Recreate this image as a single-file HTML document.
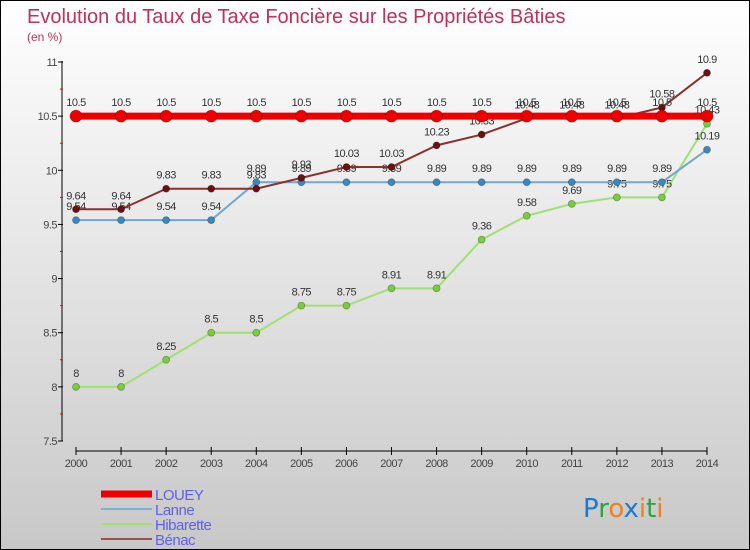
<!DOCTYPE html>
<html><head><meta charset="utf-8"><style>
body{margin:0}
#c{width:750px;height:550px;position:relative;overflow:hidden;box-sizing:border-box;border:1px solid #000;background:linear-gradient(#ffffff,#c8c8c8);font-family:"Liberation Sans","DejaVu Sans",sans-serif}
svg{position:absolute;left:0;top:0}
</style></head><body>
<div id="c">
<svg id="s" width="750" height="550"></svg>
</div>
<script>
const years=[2000,2001,2002,2003,2004,2005,2006,2007,2008,2009,2010,2011,2012,2013,2014];
const louey=[10.5,10.5,10.5,10.5,10.5,10.5,10.5,10.5,10.5,10.5,10.5,10.5,10.5,10.5,10.5];
const lanne=[9.54,9.54,9.54,9.54,9.89,9.89,9.89,9.89,9.89,9.89,9.89,9.89,9.89,9.89,10.19];
const hibarette=[8,8,8.25,8.5,8.5,8.75,8.75,8.91,8.91,9.36,9.58,9.69,9.75,9.75,10.43];
const benac=[9.64,9.64,9.83,9.83,9.83,9.93,10.03,10.03,10.23,10.33,10.48,10.48,10.48,10.58,10.9];
const yTicks=[7.5,8,8.5,9,9.5,10,10.5,11];
const NS="http://www.w3.org/2000/svg";
const s=document.getElementById('s');
const X=i=>75+i*(706-75)/(years.length-1);
const Y=v=>440-(v-7.5)*(440-61)/3.5;
function el(t,a,p){const e=document.createElementNS(NS,t);for(const k in a)e.setAttribute(k,a[k]);(p||s).appendChild(e);return e;}
function tx(x,y,str,a){const e=el('text',Object.assign({x:x,y:y},a));e.textContent=str;return e;}
let t=tx(26,22,'Evolution du Taux de Taxe Foncière sur les Propriétés Bâties',{fill:'#c0305a','font-size':20});

t=tx(26,40,'(en %)',{fill:'#c0305a','font-size':12});

let a=el('line',{x1:61,y1:60,x2:61,y2:440,stroke:'#000'});
a=el('line',{x1:75,y1:450,x2:706,y2:450,stroke:'#000'});
yTicks.forEach((v,i)=>{
 const l=el('line',{x1:57,x2:62,y1:Y(v),y2:Y(v),stroke:'#000'});
 
 const tl=tx(56,Y(v)+4,String(v),{'text-anchor':'end','font-size':11,fill:'#444','letter-spacing':'-0.5'});
 
 if(i<yTicks.length-1){const m=el('line',{x1:59,x2:62,y1:Y(v+0.25),y2:Y(v+0.25),stroke:'#e00'});
 }
});
years.forEach((yr,i)=>{
 const l=el('line',{x1:X(i),x2:X(i),y1:446,y2:454,stroke:'#000'});
 
 const tl=tx(X(i),466,String(yr),{'text-anchor':'middle','font-size':11,fill:'#444','letter-spacing':'-0.5'});
 
});
function series(name,vals,color,w,r,dot){
 const g=el('g',{});
 const p=el('polyline',{points:vals.map((v,i)=>X(i)+','+Y(v)).join(' '),fill:'none',stroke:color,'stroke-width':w},g);
 
 vals.forEach((v,i)=>{
  const c=el('circle',{cx:X(i),cy:Y(v),r:r,fill:dot,stroke:'rgba(0,0,0,0.3)','stroke-width':0.8},g);
  
  const l=tx(X(i),Y(v)-10,String(v),{'text-anchor':'middle','font-size':11,fill:'#333','letter-spacing':'-0.5'},g);
  
 });
}
series('hibarette',hibarette,'#a0e070',2,3.5,'#7acc3a');
series('lanne',lanne,'#70a8d0',2,3.5,'#3a88c0');
series('benac',benac,'#8a3030',2,3.5,'#6a1010');
series('louey',louey,'#ee0000',7,6,'#ee0000');
const leg=[['LOUEY','#ee0000',7],['Lanne','#80b0d8',2],['Hibarette','#a0e070',2],['Bénac','#985050',2]];
leg.forEach((d,i)=>{
 const y=493+i*15;
 const g=el('g',{});
 el('line',{x1:100,x2:151,y1:y,y2:y,stroke:d[1],'stroke-width':d[2]},g);
 tx(154,y+6,d[0],{'font-size':15,fill:'#6060ee','letter-spacing':'-0.5'},g);
});
const lg=el('text',{x:582,y:516,'font-size':26,'font-family':'"DejaVu Sans",sans-serif'});

[['P','#1a7ad0'],['r','#30a040'],['o','#f08020'],['x','#1a7ad0'],['i','#f08020'],['t','#30a040'],['i','#f08020']].forEach(c=>{const sp=el('tspan',{fill:c[1]},lg);sp.textContent=c[0];});
</script>
</body></html>
